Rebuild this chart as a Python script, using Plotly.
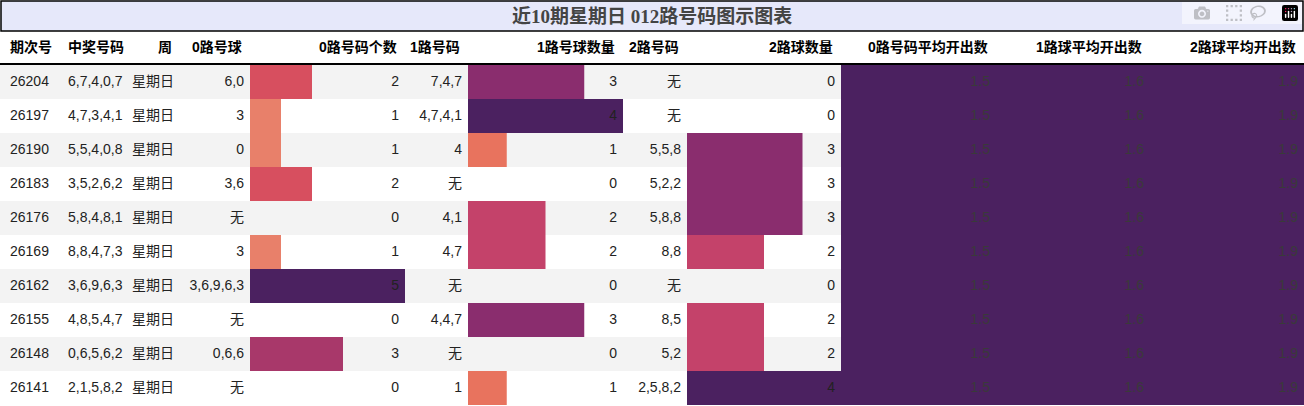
import plotly.graph_objects as go

periods = ["26204","26197","26190","26183","26176","26169","26162","26155","26148","26141"]
draws = ["6,7,4,0,7","4,7,3,4,1","5,5,4,0,8","3,5,2,6,2","5,8,4,8,1","8,8,4,7,3","3,6,9,6,3","4,8,5,4,7","0,6,5,6,2","2,1,5,8,2"]
weekday = ["星期日"]*10
r0_balls = ["6,0","3","0","3,6","无","3","3,6,9,6,3","无","0,6,6","无"]
r0_count = [2,1,1,2,0,1,5,0,3,0]
r1_balls = ["7,4,7","4,7,4,1","4","无","4,1","4,7","无","4,4,7","无","1"]
r1_count = [3,4,1,0,2,2,0,3,0,1]
r2_balls = ["无","无","5,5,8","5,2,2","5,8,8","8,8","无","8,5","5,2","2,5,8,2"]
r2_count = [0,0,3,3,3,2,0,2,2,4]
avg0 = [1.5]*10
avg1 = [1.6]*10
avg2 = [1.9]*10
headers = ["期次号","中奖号码","周","0路号球","0路号码个数","1路号码","1路号球数量","2路号码","2路球数量","0路号码平均开出数","1路球平均开出数","2路球平均开出数"]
title = "近10期星期日 012路号码图示图表"

W, H = 1304, 406
ROW_H = 34
TOP = 65
rows_y = [TOP + ROW_H/2 + ROW_H*i for i in range(len(periods))]

edges = [0, 58, 128, 180, 250, 405, 468, 623, 687, 841, 996, 1150, 1304]

def magma(r):
    stops = [(0.0, "#fcae7d"), (0.2, "#e8806a"), (0.25, "#e8735e"), (0.4, "#d74f5f"),
             (0.5, "#c4426a"), (0.6, "#a8386a"), (0.75, "#8a2d6e"), (1.0, "#4b2160")]
    for p, c in stops:
        if r <= p + 1e-9:
            return c
    return stops[-1][1]

fig = go.Figure()
shapes = []
for i, y in enumerate(rows_y):
    if i % 2 == 0:
        shapes.append(dict(type="rect", x0=0, x1=W, y0=y-ROW_H/2, y1=y+ROW_H/2,
                           fillcolor="#f3f3f3", line_width=0, layer="below"))
shapes.append(dict(type="rect", x0=1, x1=W-1, y0=1, y1=31, fillcolor="#e6e8fa",
                   line=dict(color="black", width=1.5), layer="below"))
shapes.append(dict(type="line", x0=0, x1=W, y0=64, y1=64, line=dict(color="black", width=2)))

def add_bars(vals, col, vmax):
    x0, x1 = edges[col], edges[col+1]
    scale = (x1 - x0) / vmax
    fig.add_trace(go.Bar(orientation="h", y=rows_y, x=[v*scale for v in vals], base=x0,
                         width=ROW_H, marker=dict(color=[magma(v/vmax) for v in vals], line_width=0),
                         hoverinfo="skip", showlegend=False))

add_bars(r0_count, 4, 5)
add_bars(r1_count, 6, 4)
add_bars(r2_count, 8, 4)
for c, vals in zip([9, 10, 11], [avg0, avg1, avg2]):
    add_bars(vals, c, max(vals))

cols = [periods, draws, weekday, r0_balls, r0_count, r1_balls, r1_count, r2_balls, r2_count,
        avg0, avg1, avg2]
font_body = "Liberation Sans, Noto Sans CJK SC, sans-serif"
for ci, vals in enumerate(cols):
    if ci < 2:
        xs = [edges[ci] + 10]*10
        pos = "middle right"
    else:
        xs = [edges[ci+1] - 6]*10
        pos = "middle left"
    color = "#3a3a3a" if ci >= 9 else "#222222"
    fig.add_trace(go.Scatter(x=xs, y=rows_y, mode="text", text=[str(v) for v in vals],
                             textposition=pos, textfont=dict(size=14, color=color, family=font_body),
                             hoverinfo="skip", showlegend=False))

annotations = []
for ci, h in enumerate(headers):
    if ci < 2:
        annotations.append(dict(x=edges[ci]+8, y=47, text=f"<b>{h}</b>", xanchor="left"))
    else:
        annotations.append(dict(x=edges[ci+1]-6, y=47, text=f"<b>{h}</b>", xanchor="right"))
for a in annotations:
    a.update(yanchor="middle", showarrow=False, xref="x", yref="y",
             font=dict(size=14, color="black", family=font_body))
annotations.append(dict(x=W/2, y=16, text=f"<b>{title}</b>", showarrow=False, xref="x", yref="y",
                        xanchor="center", yanchor="middle",
                        font=dict(size=19, color="#444444", family="Liberation Serif, Noto Sans CJK SC, serif")))

fig.update_layout(width=W, height=H, margin=dict(l=0, r=0, t=0, b=0),
                  plot_bgcolor="white", paper_bgcolor="white", barmode="overlay",
                  shapes=shapes, annotations=annotations,
                  xaxis=dict(range=[0, W], visible=False, fixedrange=True),
                  yaxis=dict(range=[H, 0], visible=False, fixedrange=True))
fig.write_html("out.html",
               post_script="document.body.style.margin='0';document.body.style.overflow='hidden';")
